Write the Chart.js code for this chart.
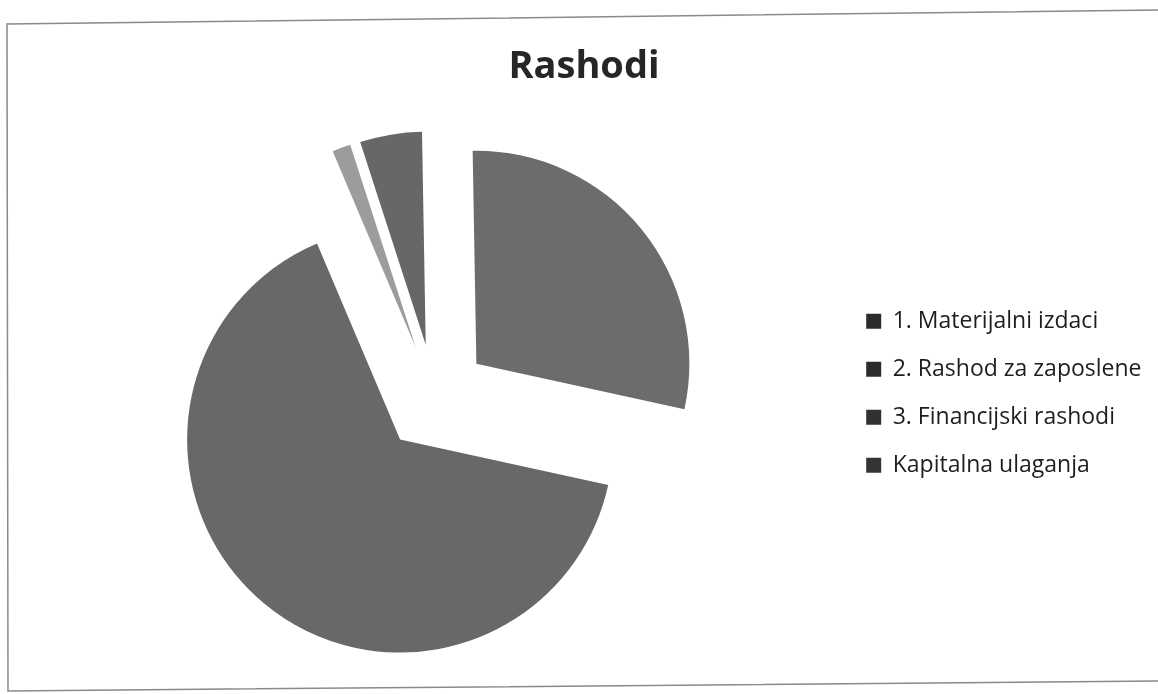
<!DOCTYPE html>
<html><head><meta charset="utf-8">
<script src="https://cdn.jsdelivr.net/npm/chart.js@4.4.1/dist/chart.umd.min.js"></script>
<style>
html,body{margin:0;padding:0;background:#fff;}
#wrap{position:relative;width:1158px;height:694px;}
#frame{position:absolute;left:0;top:0;pointer-events:none;}
</style></head><body>
<div id="wrap"><canvas id="c" width="1158" height="694"></canvas>
<svg id="frame" width="1158" height="694"><polyline points="1158,10 7,24 8,691 1158,681" fill="none" stroke="#8a8a8a" stroke-width="1.5"/></svg></div>
<script>
const categories = ['1. Materijalni izdaci', '2. Rashod za zaposlene', '3. Financijski rashodi', 'Kapitalna ulaganja'];
const values = [28.7, 65.2, 1.4, 4.7];
const sliceColors = ['#6c6c6c', '#686868', '#9c9c9c', '#676767'];
const legendColors = ['#2c2c2c', '#2c2c2c', '#313131', '#343434'];
const chartTitle = 'Rashodi';
const explodeDistance = 54;

const explodePlugin = {
  id: 'explode',
  afterUpdate(chart) {
    const meta = chart.getDatasetMeta(0);
    meta.data.forEach(arc => {
      const mid = (arc.startAngle + arc.endAngle) / 2;
      arc.x += explodeDistance * Math.cos(mid);
      arc.y += explodeDistance * Math.sin(mid);
    });
  }
};

new Chart(document.getElementById('c'), {
  type: 'pie',
  data: {
    labels: categories,
    datasets: [{ data: values, backgroundColor: sliceColors, borderWidth: 0 }]
  },
  options: {
    responsive: false,
    animation: false,
    events: [],
    rotation: -1,
    radius: 213,
    layout: { padding: { left: 16.5, right: 6.5, top: 0, bottom: 0 } },
    plugins: {
      title: {
        display: true, text: chartTitle, color: '#262626',
        font: { family: 'Open Sans', size: 38, weight: 'bold' },
        padding: { top: 44, bottom: 12.4 }
      },
      legend: {
        position: 'right',
        title: { display: true, text: '', font: { size: 10 }, padding: { top: 92, bottom: 0 } },
        labels: {
          boxWidth: 15, boxHeight: 15, padding: 13.5, color: '#1e1e1e',
          font: { family: 'Open Sans', size: 23, lineHeight: 1.5 },
          generateLabels(chart) {
            const base = Chart.overrides.pie.plugins.legend.labels.generateLabels(chart);
            return base.map((l, i) => Object.assign(l, { text: [l.text], fillStyle: legendColors[i], strokeStyle: legendColors[i], lineWidth: 0 }));
          }
        }
      },
      tooltip: { enabled: false }
    }
  },
  plugins: [explodePlugin]
});
</script>
</body></html>
